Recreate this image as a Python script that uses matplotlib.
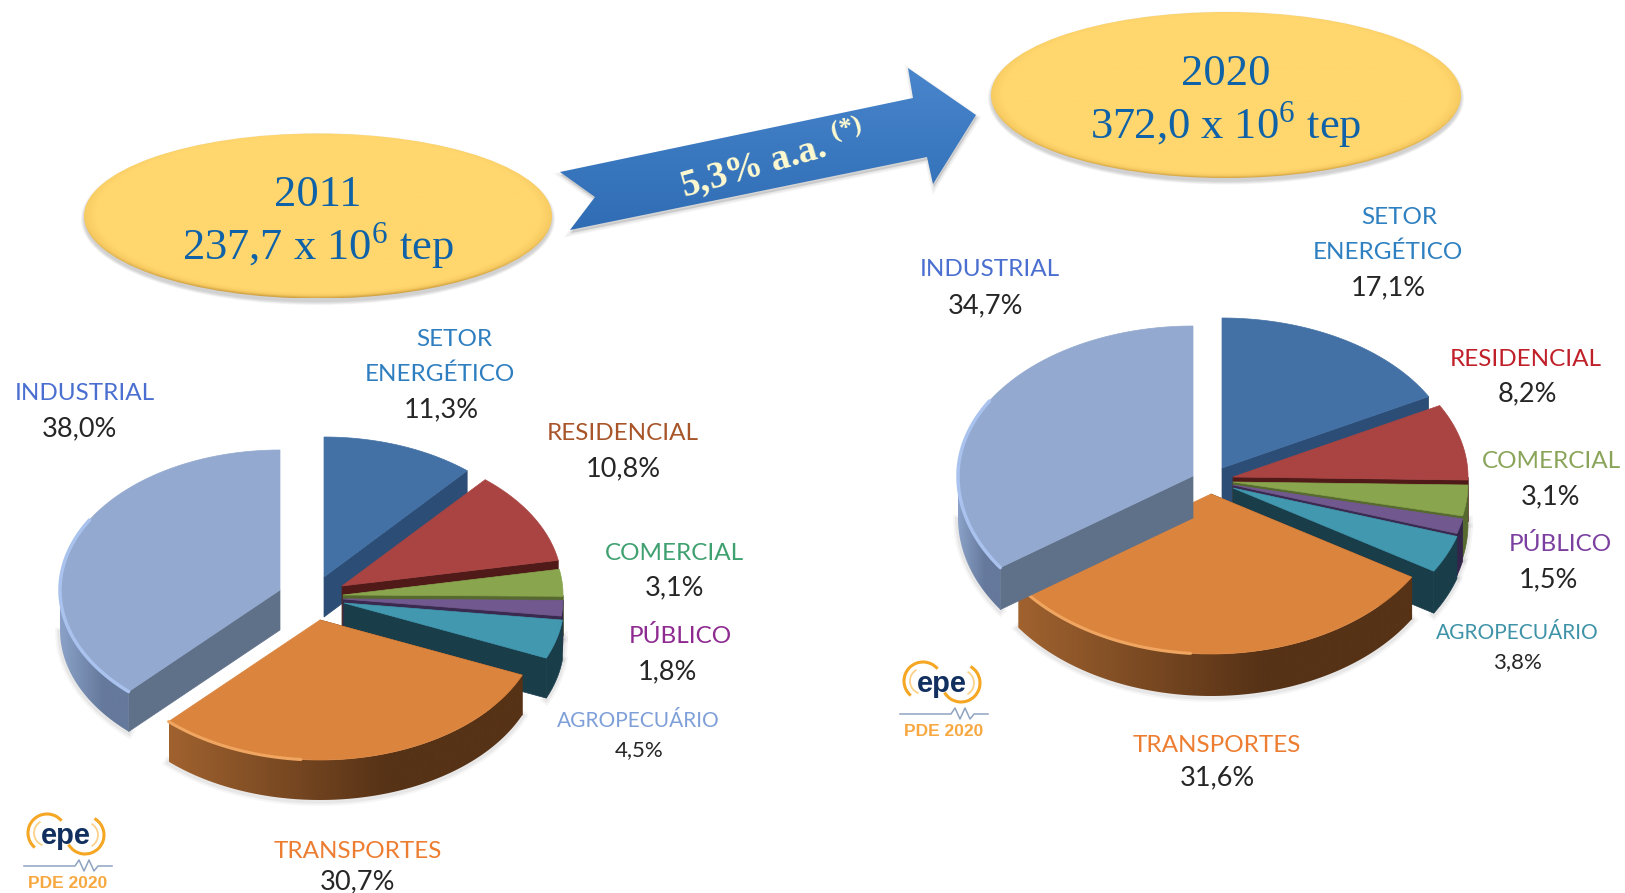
import matplotlib
matplotlib.use('Agg')
import matplotlib.pyplot as plt
import numpy as np
from matplotlib.patches import Polygon, Ellipse, Arc
from matplotlib.colors import LinearSegmentedColormap

plt.rcParams['mathtext.fontset'] = 'custom'
plt.rcParams['mathtext.rm'] = 'Liberation Serif'
plt.rcParams['mathtext.bf'] = 'Liberation Serif:bold'

# data
sectors = ['SETOR ENERGÉTICO', 'RESIDENCIAL', 'COMERCIAL', 'PÚBLICO', 'AGROPECUÁRIO', 'TRANSPORTES', 'INDUSTRIAL']
shares_2011 = [11.3, 10.8, 3.1, 1.8, 4.5, 30.7, 38.0]
shares_2020 = [17.1, 8.2, 3.1, 1.5, 3.8, 31.6, 34.7]
total_2011 = '237,7'
total_2020 = '372,0'
growth = r'5,3% a.a. $^{\mathbf{(*)}}$'

# slice look: top colour, wall colour, rim colour at the right end, rim colour at the left end
top_colors = ['#4471a5', '#a94442', '#89a54e', '#71588f', '#4198af', '#db843d', '#93a9cf']
wall_colors = ['#2c4d75', '#4f1a18', '#56692f', '#3a2a50', '#1a3d4a', '#563216', '#5f7089']
rim_right = ['#2c4d75', '#4f1a18', '#56692f', '#33244a', '#1a3d4a', '#563216', '#65799c']
rim_left = ['#2c4d75', '#4f1a18', '#56692f', '#33244a', '#1a3d4a', '#a0622f', '#8ba2c8']

# apex of each slice (exploded look of the original)
apex_2011 = [(324, 577), (342, 586), (343, 595), (343, 599), (344, 603), (320, 620), (280, 590)]
apex_2020 = [(1222, 468), (1233, 477), (1233, 482), (1233, 485), (1233, 488), (1211, 494), (1193, 476)]

# labels: text, x, y, colour
labels_2011 = [('SETOR', 454, 339, '#2f7fc0'), ('ENERGÉTICO', 440, 374, '#2f7fc0'),
               ('INDUSTRIAL', 85, 393, '#4a6fd0'), ('RESIDENCIAL', 623, 433, '#a8552a'),
               ('COMERCIAL', 674, 553, '#3fa070'), ('PÚBLICO', 680, 636, '#8e2a90'),
               ('TRANSPORTES', 358, 851, '#ed7d31')]
values_2011 = [('11,3%', 441, 410), ('38,0%', 79, 429), ('10,8%', 623, 469), ('3,1%', 675, 588),
               ('1,8%', 667, 672), ('30,7%', 358, 882)]
labels_2020 = [('SETOR', 1399, 217, '#2f80c0'), ('ENERGÉTICO', 1388, 252, '#2f80c0'),
               ('INDUSTRIAL', 990, 270, '#4a6fd0'), ('RESIDENCIAL', 1526, 359, '#c0202a'),
               ('COMERCIAL', 1551, 461, '#8aa55a'), ('PÚBLICO', 1560, 544, '#7b3fa0'),
               ('TRANSPORTES', 1217, 745, '#ed7d31')]
values_2020 = [('17,1%', 1388, 288), ('34,7%', 986, 306), ('8,2%', 1527, 394), ('3,1%', 1551, 497),
               ('1,5%', 1548, 580), ('31,6%', 1217, 778)]

fig = plt.figure(figsize=(16.25, 8.93), dpi=100)
ax = fig.add_axes([0, 0, 1, 1])
ax.set_xlim(0, 1625)
ax.set_ylim(893, 0)
ax.axis('off')


def rim_point(apex, theta, rx, ry_up, ry_down):
    # theta in degrees, clockwise from the top of the pie
    t = np.radians(theta)
    c = np.cos(t)
    return apex[0] + rx * np.sin(t), apex[1] - np.where(c > 0, ry_up, ry_down) * c


def draw_pie(shares, apexes, rx, ry_up, ry_down, depth):
    fracs = np.array(shares) / np.sum(shares) * 360
    ends = np.cumsum(fracs)
    starts = ends - fracs
    for i in range(len(shares)):
        a = apexes[i]
        th = np.linspace(starts[i], ends[i], 120)
        xs, ys = rim_point(a, th, rx, ry_up, ry_down)
        z = 2 + i * 3

        # flat walls along the cut edges
        if ends[i] < 180:
            x1, y1 = rim_point(a, ends[i], rx, ry_up, ry_down)
        else:
            x1, y1 = rim_point(a, starts[i], rx, ry_up, ry_down)
        wall = [(a[0], a[1]), (x1, y1), (x1, y1 + depth), (a[0], a[1] + depth)]
        ax.add_patch(Polygon(wall, closed=True, fc=wall_colors[i], ec=wall_colors[i], lw=0.5, zorder=z))

        # outer rim, only the part that faces down
        keep = (th >= 90) & (th <= 270)
        if keep.sum() > 1:
            rx_pts = xs[keep]
            ry_pts = ys[keep]
            rim = list(zip(rx_pts, ry_pts)) + list(zip(rx_pts[::-1], ry_pts[::-1] + depth))
            # soft shadow under the rim
            for w, al in ((7, 0.05), (4, 0.08)):
                ax.plot(rx_pts, ry_pts + depth + 1, color='#444444', lw=w, alpha=al, zorder=1)
            if rim_left[i] == rim_right[i]:
                ax.add_patch(Polygon(rim, closed=True, fc=rim_left[i], ec=rim_left[i], lw=0.5, zorder=z))
            else:
                # gradient runs from the left end of the rim to the pie centre, then stays dark
                cmap = LinearSegmentedColormap.from_list('rim', [rim_left[i], rim_right[i]])
                left = rx_pts.min()
                grad = np.clip((np.arange(400) / 399.0) * 1.6, 0, 1).reshape(1, -1)
                im = ax.imshow(grad, extent=[left, rx_pts.max(), 893, 0], cmap=cmap, vmin=0, vmax=1,
                               aspect='auto', zorder=z)
                im.set_clip_path(Polygon(rim, closed=True, transform=ax.transData))

        # top face
        pts = [(a[0], a[1])] + list(zip(xs, ys))
        ax.add_patch(Polygon(pts, closed=True, fc=top_colors[i], ec=top_colors[i], lw=0.5, zorder=z + 1))

    # lighter bevel on the two big slices
    th = np.linspace(185, ends[5], 40)
    bx, by = rim_point(apexes[5], th, rx, ry_up, ry_down)
    ax.plot(bx, by, color='#f0a660', lw=2.2, solid_capstyle='round', zorder=4 + 5 * 3)
    th = np.linspace(starts[6], 300, 60)
    bx, by = rim_point(apexes[6], th, rx, ry_up, ry_down)
    ax.plot(bx, by, color='#a9c3ee', lw=2.5, solid_capstyle='round', zorder=4 + 6 * 3)


def draw_bubble(cx, cy, w, h, line1, line2):
    # soft shadow
    for s in range(5):
        ax.add_patch(Ellipse((cx, cy + 3), w + 6 - s * 1.5, h + 7 - s * 1.5, fc='#555555', ec='none', alpha=0.06, zorder=30))
    cmap = LinearSegmentedColormap.from_list('y', ['#ffd76e', '#ffd76e', '#f7cb62', '#c8983a'])
    g = np.linspace(-1, 1, 400)
    xx, yy = np.meshgrid(g, g)
    rr = np.sqrt(xx ** 2 + yy ** 2)
    rr = np.clip((rr - 0.9) / 0.11, 0, 1) * (0.45 + 0.55 * (yy + 1) / 2)
    im = ax.imshow(rr, extent=[cx - w / 2, cx + w / 2, cy + h / 2, cy - h / 2], cmap=cmap, vmin=0, vmax=1,
                   aspect='auto', zorder=31)
    im.set_clip_path(Ellipse((cx, cy), w, h, transform=ax.transData))
    ax.text(cx, cy - 21, line1, ha='center', va='center', fontsize=32, color='#0f62a8',
            family='Liberation Serif', zorder=32)
    ax.text(cx, cy + 30, line2, ha='center', va='center', fontsize=32, color='#0f62a8',
            family='Liberation Serif', zorder=32)


def draw_logo(dx, dy):
    ax.text(66 + dx, 836 + dy, 'epe', ha='center', va='center', fontsize=21, color='#12305f',
            family='Liberation Sans', fontweight='bold', zorder=5)
    ax.add_patch(Arc((47 + dx, 833 + dy), 38, 38, theta1=130, theta2=320, ec='#f5a623', lw=2.2, zorder=4))
    ax.add_patch(Arc((85 + dx, 835 + dy), 38, 38, theta1=-60, theta2=150, ec='#f5a623', lw=2.2, zorder=4))
    ax.add_patch(Arc((47 + dx, 833 + dy), 26, 26, theta1=110, theta2=240, ec='#fbd28a', lw=1.3, zorder=4))
    ax.add_patch(Arc((85 + dx, 835 + dy), 26, 26, theta1=-60, theta2=60, ec='#fbd28a', lw=1.3, zorder=4))
    ax.plot(np.array([24, 75, 79, 84, 89, 94, 98, 112]) + dx, np.array([866, 866, 860, 871, 860, 871, 866, 866]) + dy,
            color='#8ea3c0', lw=1.1, zorder=4)
    ax.text(68 + dx, 883 + dy, 'PDE 2020', ha='center', va='center', fontsize=12.5, color='#f7a840',
            family='Liberation Sans', fontweight='bold', zorder=5)


draw_pie(shares_2011, apex_2011, 220, 140, 140, 40)
draw_pie(shares_2020, apex_2020, 235, 150, 160, 42)

draw_bubble(318, 216, 468, 165, '2011', total_2011 + ' x 10$^{6}$ tep')
draw_bubble(1226, 95, 470, 166, '2020', total_2020 + ' x 10$^{6}$ tep')

# arrow between the two years
arrow = [(560, 172), (913, 98), (908, 68), (976, 115), (933, 184), (927, 157), (570, 230), (595, 197)]
for s in range(4):
    ax.add_patch(Polygon([(x + 1, y + 3) for x, y in arrow], closed=True, fc='#555555', ec='#555555',
                         lw=s * 1.5, alpha=0.05, zorder=33))
cmap = LinearSegmentedColormap.from_list('b', ['#4a86cc', '#3a78c0', '#2f6cb3'])
grad = np.linspace(0, 1, 200).reshape(-1, 1)
im = ax.imshow(grad, extent=[555, 980, 235, 65], cmap=cmap, aspect='auto', zorder=34)
im.set_clip_path(Polygon(arrow, closed=True, transform=ax.transData))
ax.text(772, 159, growth, ha='center', va='center', rotation=16, fontsize=27, color='#fffbd0',
        family='Liberation Serif', fontweight='bold', zorder=35, rotation_mode='anchor')
ax.set_xlim(0, 1625)
ax.set_ylim(893, 0)

for lab in labels_2011 + labels_2020:
    ax.text(lab[1], lab[2], lab[0], ha='center', va='center', fontsize=17.5, color=lab[3], family='Lato', zorder=40)
for val in values_2011 + values_2020:
    ax.text(val[1], val[2], val[0], ha='center', va='center', fontsize=19.5, color='#262626', family='Lato', zorder=40)

# these two are set smaller in the original
ax.text(638, 721, sectors[4], ha='center', va='center', fontsize=15, color='#7f9fd8', family='Lato', zorder=40)
ax.text(639, 750, '4,5%', ha='center', va='center', fontsize=16, color='#262626', family='Lato', zorder=40)
ax.text(1517, 633, sectors[4], ha='center', va='center', fontsize=15, color='#3e93a8', family='Lato', zorder=40)
ax.text(1517, 662, '3,8%', ha='center', va='center', fontsize=16, color='#262626', family='Lato', zorder=40)

draw_logo(0, 0)
draw_logo(876, -152)

fig.savefig('out.png', dpi=100)
